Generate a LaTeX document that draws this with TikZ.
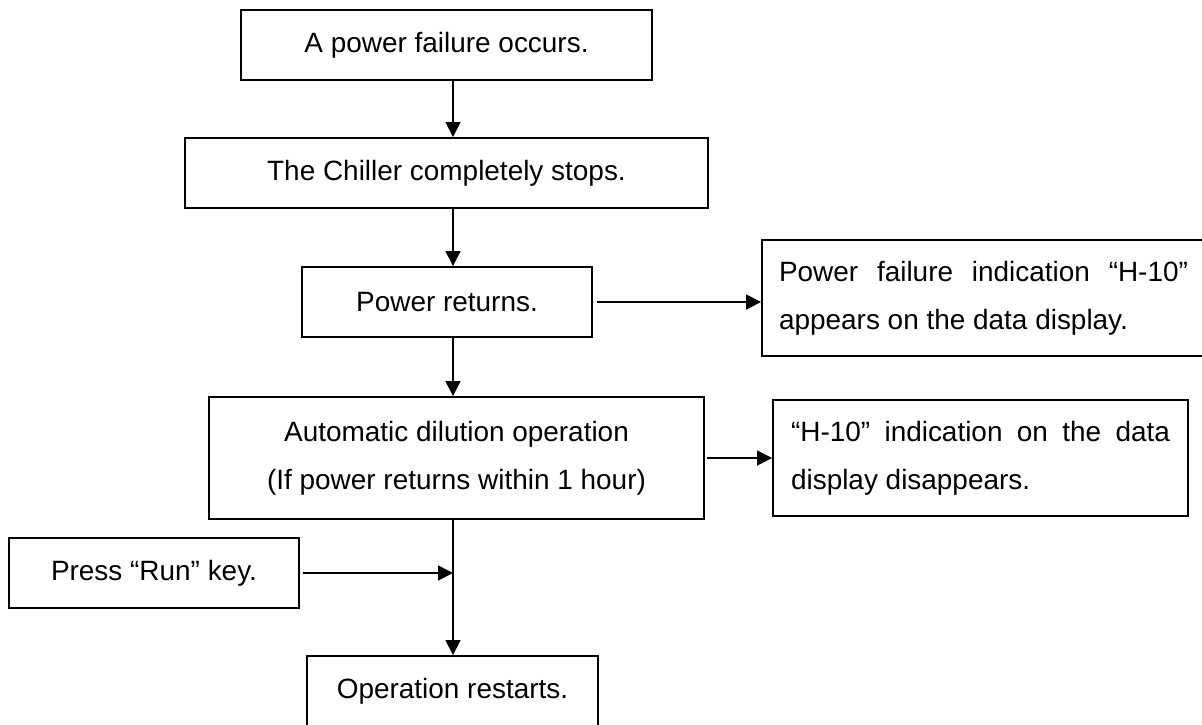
\documentclass[tikz,border=0pt]{standalone}
\usepackage{fontspec}
\setmainfont{Liberation Sans}
\usetikzlibrary{arrows.meta}
\tikzset{>={Triangle[length=3mm,width=3mm]}}
\tikzset{
  box/.style={draw, line width=1.1pt, inner sep=0pt, align=center, minimum height=1.4cm},
  note/.style={draw, line width=1.1pt, inner ysep=0pt, align=justify, minimum height=2.32cm},
  flow/.style={->, line width=0.9pt},
}

\begin{document}
\begin{tikzpicture}[x=0.02cm, y=-0.02cm, font=\fontsize{15.9pt}{27.5pt}\selectfont]

\useasboundingbox (0,0) rectangle (1202,724);

\node[box, minimum width=8.22cm] (fail) at (446.5,45) {A power failure occurs.};
\node[box, minimum width=10.46cm] (stop) at (446.5,173) {The Chiller completely stops.};
\node[box, minimum width=5.8cm] (ret) at (447,302) {Power returns.};
\node[box, minimum width=9.9cm, minimum height=2.44cm] (dil) at (456.5,458) {Automatic dilution operation\\(If power returns within 1 hour)};
\node[box, minimum width=5.82cm] (restart) at (452.5,691) {Operation restarts.};
\node[box, minimum width=5.8cm] (press) at (154,573) {Press “Run” key.};

\node[note, text width=8.18cm, inner xsep=0.34cm] (shown) at (983.5,298) {Power failure indication “H-10”\linebreak appears on the data display.};
\node[note, text width=7.58cm, inner xsep=0.36cm] (gone) at (980.5,458) {“H-10” indication on the data\linebreak display disappears.};

\coordinate (spine) at (453,0);

\draw[flow] (fail.south -| spine) -- (stop.north -| spine);
\draw[flow] (stop.south -| spine) -- (ret.north -| spine);
\draw[flow] (ret.south -| spine) -- (dil.north -| spine);
\draw[flow] (dil.south -| spine) -- (restart.north -| spine);

\draw[flow] ([xshift=0.08cm]ret.east) -- (ret.east -| shown.west);
\draw[flow] ([xshift=0.04cm]dil.east) -- (dil.east -| gone.west);
\draw[flow] ([xshift=0.06cm]press.east) -- (press.east -| spine);

\end{tikzpicture}
\end{document}
